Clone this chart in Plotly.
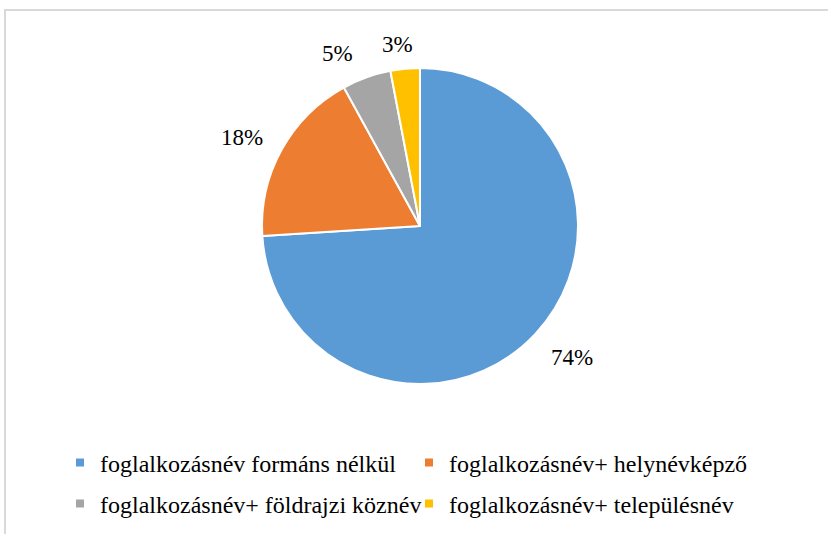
import math
import plotly.graph_objects as go

labels = ["foglalkozásnév formáns nélkül", "foglalkozásnév+ helynévképző",
          "foglalkozásnév+ földrajzi köznév", "foglalkozásnév+ településnév"]
values = [74, 18, 5, 3]
text_labels = ["74%", "18%", "5%", "3%"]
colors = ["#5B9BD5", "#ED7D31", "#A5A5A5", "#FFC000"]
legend_rows = ["legend", "legend", "legend2", "legend2"]

# label placement style: (angle nudge in degrees, distance from centre in px)
label_nudge = [(-2.2, 201), (-2.5, 199), (-5.7, 191), (-1.8, 183)]

W, H = 828, 534
CX, CY, R = 420, 226, 158
FONT = "Liberation Serif, Times New Roman, serif"
FS = 23

fig = go.Figure()
fig.add_trace(go.Pie(
    labels=labels, values=values, sort=False, direction="clockwise", rotation=0,
    marker=dict(colors=colors, line=dict(color="white", width=2)),
    textinfo="none", hoverinfo="label+percent", showlegend=False,
    domain=dict(x=[(CX - R) / W, (CX + R) / W], y=[1 - (CY + R) / H, 1 - (CY - R) / H]),
))

# legend entries
for lab, col, lg in zip(labels, colors, legend_rows):
    fig.add_trace(go.Scatter(x=[None], y=[None], mode="markers", name=lab,
                             marker=dict(symbol="square", size=8, color=col),
                             legend=lg, showlegend=True))

# data labels outside the pie, positioned from slice mid-angles
total = sum(values)
cum = 0
annotations = []
for v, t, (da, d) in zip(values, text_labels, label_nudge):
    mid = (cum + v / 2) / total * 2 * math.pi + math.radians(da)
    cum += v
    dx, dy = math.sin(mid), -math.cos(mid)
    px, py = CX + dx * d, CY + dy * d
    annotations.append(dict(x=px / W, y=1 - py / H, xref="paper", yref="paper",
                            text=t, showarrow=False, xanchor="center", yanchor="middle",
                            font=dict(family=FONT, size=FS, color="#000000")))

legend_common = dict(orientation="h", xanchor="left", yanchor="middle",
                     entrywidth=304, entrywidthmode="pixels",
                     font=dict(family=FONT, size=24, color="#000000"),
                     bgcolor="rgba(0,0,0,0)", itemclick=False, itemdoubleclick=False)

fig.update_layout(
    width=W, height=H, margin=dict(l=0, r=0, t=0, b=0),
    paper_bgcolor="white", plot_bgcolor="white",
    xaxis=dict(visible=False), yaxis=dict(visible=False),
    annotations=annotations,
    legend=dict(x=60 / W, y=1 - 463 / H, **legend_common),
    legend2=dict(x=60 / W, y=1 - 504 / H, **legend_common),
    shapes=[dict(type="rect", xref="paper", yref="paper",
                 x0=5 / W, x1=1.1, y0=-0.1, y1=1 - 10 / H,
                 line=dict(color="#D9D9D9", width=2), layer="below")],
)

fig.write_html("out.html", config={"displayModeBar": False},
               post_script="document.body.style.margin='0';")
